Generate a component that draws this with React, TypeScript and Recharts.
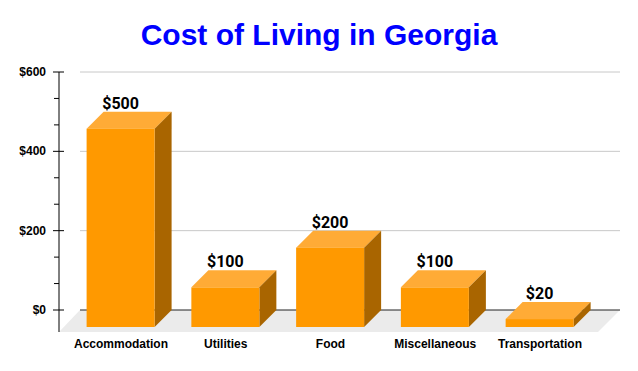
import React from "react";
import { Bar, BarChart, CartesianGrid, LabelList, XAxis, YAxis } from "recharts";

const categories = ["Accommodation", "Utilities", "Food", "Miscellaneous", "Transportation"];
const costs = [500, 100, 200, 100, 20];
const yMajorTicks = [0, 200, 400, 600];
const minorPerStep = 2;

const W = 638;
const H = 371;
const margin = { top: 72, right: 40, bottom: 21, left: 0 };
const X_AXIS_H = 40;
const PLOT_BOTTOM = H - margin.bottom - X_AXIS_H;
const PLOT_H = PLOT_BOTTOM - margin.top;

const DEPTH = 17; // bar depth offset
const FLOOR_DX = 21;
const FLOOR_DY = 22;

const FONT = "'Liberation Sans', Arial, sans-serif";

const data = categories.map((name, i) => ({ name, cost: costs[i] }));

// major ticks plus evenly spaced minor ticks between them
const yTicks: number[] = [];
yMajorTicks.forEach((t, i) => {
  yTicks.push(t);
  const next = yMajorTicks[i + 1];
  if (next === undefined) return;
  for (let k = 1; k <= minorPerStep; k++) yTicks.push(t + ((next - t) * k) / (minorPerStep + 1));
});

function Bar3D(props: any) {
  const { x, y, width: w, height: h } = props;
  if (w == null || h == null) return null;
  const d = DEPTH;
  return (
    <g>
      <polygon
        points={`${x},${y + d} ${x + w},${y + d} ${x + w + d},${y} ${x + d},${y}`}
        fill="#ffab36"
      />
      <polygon
        points={`${x + w},${y + d} ${x + w + d},${y} ${x + w + d},${y + h} ${x + w},${y + h + d}`}
        fill="#a96500"
      />
      <rect x={x} y={y + d} width={w} height={h} fill="#ff9900" />
    </g>
  );
}

function GridLine(props: any) {
  const { x1, x2, y1 } = props;
  const step = PLOT_H / (yMajorTicks.length - 1);
  const rel = (PLOT_BOTTOM - y1) / step;
  if (Math.abs(rel - Math.round(rel)) > 0.05) return <g key={props.key} />;
  if (Math.abs(y1 - PLOT_BOTTOM) < 1) {
    return (
      <g key={props.key}>
        <polygon
          points={`${x1},${y1 + FLOOR_DY} ${x2},${y1 + FLOOR_DY} ${x2 + FLOOR_DY},${y1} ${x1 + FLOOR_DX},${y1}`}
          fill="#ebebeb"
        />
        <line x1={x1 + FLOOR_DX} x2={x2 + FLOOR_DY} y1={y1} y2={y1} stroke="#222" strokeWidth={1} />
        <line x1={x1} x2={x1} y1={y1} y2={y1 + FLOOR_DY} stroke="#000" strokeWidth={1} />
      </g>
    );
  }
  return (
    <line key={props.key} x1={x1 + FLOOR_DX} x2={x2 + FLOOR_DY} y1={y1} y2={y1} stroke="#c8c8c8" strokeWidth={1} />
  );
}

function YTick(props: any) {
  const { x, y, payload } = props;
  const v = payload.value;
  const major = yMajorTicks.some((t) => Math.abs(t - v) < 0.01);
  if (!major) {
    return <line x1={x - 5} x2={x} y1={y} y2={y} stroke="#000" />;
  }
  return (
    <g>
      <line x1={x - 6} x2={x + 5} y1={y} y2={y} stroke="#000" />
      <text x={x - 13} y={y + 4} textAnchor="end" fontSize={12} fontWeight="bold" fontFamily={FONT} fill="#000">
        ${v}
      </text>
    </g>
  );
}

function XTick(props: any) {
  const { x, y, payload } = props;
  return (
    <text x={x} y={y + 38} textAnchor="middle" fontSize={12} fontWeight="bold" fontFamily={FONT} fill="#000">
      {payload.value}
    </text>
  );
}

function ValueLabel(props: any) {
  const { x, y, width, value } = props;
  return (
    <text x={x + width / 2} y={y - 3} textAnchor="middle" fontSize={16} fontWeight="bold" fontFamily="Roboto, sans-serif" fill="#000">
      ${value}
    </text>
  );
}

export default function App() {
  return (
    <div style={{ position: "absolute", left: 0, top: 0, width: W, height: H, background: "#fff" }}>
      <div
        style={{
          position: "absolute",
          left: 0,
          top: 20,
          width: W,
          textAlign: "center",
          fontFamily: FONT,
          fontWeight: "bold",
          fontSize: 30,
          lineHeight: "30px",
          color: "#0000ff",
        }}
      >
        Cost of Living in Georgia
      </div>
      <BarChart width={W} height={H} data={data} margin={margin}>
        <CartesianGrid vertical={false} horizontal={GridLine} horizontalValues={yMajorTicks} />
        <XAxis
          dataKey="name"
          height={X_AXIS_H}
          axisLine={false}
          tickLine={false}
          tickSize={0}
          tickMargin={0}
          padding={{ left: 9.6, right: 5.6 }}
          tick={XTick}
          interval={0}
        />
        <YAxis
          width={59}
          domain={[0, 600]}
          ticks={yTicks}
          interval={0}
          tickLine={false}
          tickSize={0}
          tickMargin={0}
          axisLine={{ stroke: "#000" }}
          tick={YTick}
        />
        <Bar dataKey="cost" barSize={68} shape={Bar3D} isAnimationActive={false}>
          <LabelList dataKey="cost" content={ValueLabel} />
        </Bar>
      </BarChart>
    </div>
  );
}
